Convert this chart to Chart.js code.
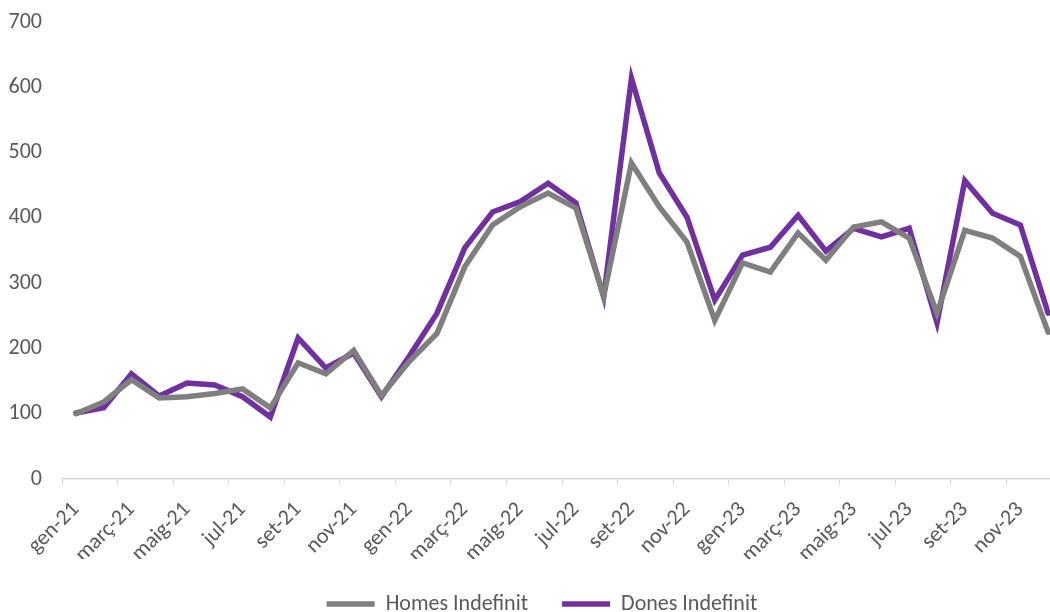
<!DOCTYPE html>
<html>
<head>
<meta charset="utf-8">
<script src="https://cdn.jsdelivr.net/npm/chart.js@4"></script>
<style>
  html, body { margin: 0; padding: 0; background: #fff; overflow: hidden; }
  #wrap { width: 1064px; height: 612px; }
</style>
</head>
<body>
<div id="wrap"><canvas id="chart"></canvas></div>
<script>
// Months gen-21 .. des-23
var months = ['gen-21', 'febr-21', 'març-21', 'abr-21', 'maig-21', 'juny-21', 'jul-21', 'ag-21', 'set-21', 'oct-21', 'nov-21', 'des-21',
              'gen-22', 'febr-22', 'març-22', 'abr-22', 'maig-22', 'juny-22', 'jul-22', 'ag-22', 'set-22', 'oct-22', 'nov-22', 'des-22',
              'gen-23', 'febr-23', 'març-23', 'abr-23', 'maig-23', 'juny-23', 'jul-23', 'ag-23', 'set-23', 'oct-23', 'nov-23', 'des-23'];

var homes = [100, 118, 152, 124, 126, 131, 138, 109, 178, 161, 197, 128,
             180, 223, 325, 389, 417, 438, 415, 280, 484, 417, 363, 243,
             331, 317, 377, 335, 386, 394, 369, 254, 381, 369, 341, 225];

var dones = [101, 109, 161, 127, 147, 144, 126, 95, 216, 170, 193, 126,
             188, 254, 354, 409, 425, 453, 423, 279, 614, 469, 401, 274,
             343, 355, 404, 349, 384, 371, 384, 239, 457, 407, 389, 254];

var yTicks = [0, 100, 200, 300, 400, 500, 600, 700];

var textColor = '#595959';
var fontFamily = 'Carlito, Lato, "Open Sans", sans-serif';

// keep the legend low, close to the bottom edge, a bit right of centre
var legendTweak = {
    id: 'legendTweak',
    beforeInit: function (chart) {
        var lg = chart.legend;
        if (!lg) return;
        var origFit = lg.fit;
        lg.fit = function () {
            origFit.call(this);
            this.height = 53;
        };
        var origDraw = lg.draw;
        lg.draw = function () {
            var c = this.ctx;
            c.save();
            c.translate(11, 0);
            origDraw.apply(this, arguments);
            c.restore();
        };
    }
};

var ctx = document.getElementById('chart').getContext('2d');
var myChart = new Chart(ctx, {
    type: 'line',
    data: {
        labels: months,
        datasets: [{
            label: 'Homes Indefinit',
            data: homes,
            borderColor: '#7f7f7f',
            backgroundColor: '#7f7f7f',
            borderWidth: 5.5,
            borderCapStyle: 'round',
            pointRadius: 0,
            tension: 0
        }, {
            label: 'Dones Indefinit',
            data: dones,
            borderColor: '#7030a0',
            backgroundColor: '#7030a0',
            borderWidth: 5.5,
            borderCapStyle: 'round',
            pointRadius: 0,
            tension: 0
        }]
    },
    plugins: [legendTweak],
    options: {
        responsive: true,
        maintainAspectRatio: false,
        animation: false,
        layout: { padding: { top: 22, right: 2, left: 0, bottom: 0 } },
        plugins: {
            tooltip: { enabled: false },
            legend: {
                position: 'bottom',
                labels: {
                    color: textColor,
                    font: { family: fontFamily, size: 22 },
                    boxWidth: 48,
                    boxHeight: 0,
                    padding: 34
                }
            }
        },
        scales: {
            x: {
                offset: true,
                grid: {
                    offset: true,
                    drawOnChartArea: false,
                    tickLength: 6,
                    color: function (c) {
                        return c.index % 2 === 0 ? '#d9d9d9' : 'rgba(0,0,0,0)';
                    }
                },
                border: { color: '#d9d9d9', width: 1.5 },
                ticks: {
                    autoSkip: false,
                    maxRotation: 45,
                    minRotation: 45,
                    padding: 12,
                    color: textColor,
                    font: { family: fontFamily, size: 22 },
                    callback: function (v, i) {
                        return i % 2 === 0 ? months[i] : '';
                    }
                },
                afterFit: function (s) {
                    s.height = 80;
                    s.paddingLeft = 0;
                    s.paddingRight = 0;
                }
            },
            y: {
                min: 0,
                max: 700,
                afterBuildTicks: function (s) {
                    s.ticks = yTicks.map(function (v) { return { value: v }; });
                },
                grid: { display: false, drawTicks: false },
                border: { display: false },
                ticks: {
                    color: textColor,
                    font: { family: fontFamily, size: 22 },
                    padding: 20
                },
                afterFit: function (s) {
                    s.width = 62;
                    s.paddingTop = 0;
                    s.paddingBottom = 0;
                }
            }
        }
    }
});
</script>
</body>
</html>
